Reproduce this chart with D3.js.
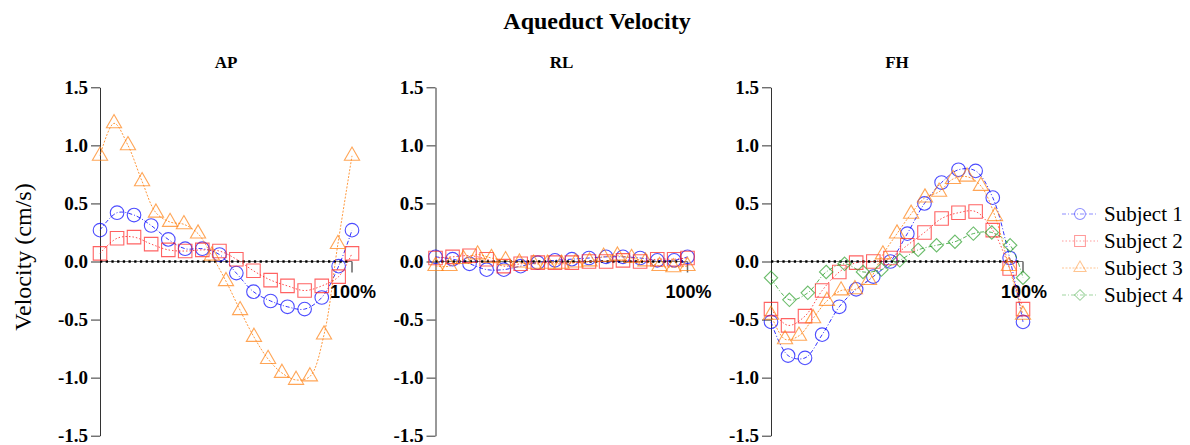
<!DOCTYPE html>
<html>
<head>
<meta charset="utf-8">
<script src="https://cdn.jsdelivr.net/npm/d3@7"></script>
<style>
  body { margin: 0; background: #fff; }
  svg { display: block; }
</style>
</head>
<body>
<div id="chart"></div>
<script>
// cycle position (% of cardiac cycle) for each subject's frames
const phase12 = [0, 6.77, 13.5, 20.3, 27.1, 33.8, 40.6, 47.4, 54.1, 60.9, 67.7, 74.4, 81.2, 88.0, 94.7, 100];
const phase3 = [0, 5.56, 11.1, 16.7, 22.2, 27.8, 33.3, 38.9, 44.4, 50, 55.6, 61.1, 66.7, 72.2, 77.8, 83.3, 88.9, 94.4, 100];
const phase4 = [0, 7.3, 14.6, 21.9, 29.2, 36.5, 43.8, 51.1, 58.4, 65.7, 73.0, 80.3, 87.6, 94.9, 100];

const panels = ["AP", "RL", "FH"];
const subjects = ["Subject 1", "Subject 2", "Subject 3", "Subject 4"];
const yTicks = [-1.5, -1.0, -0.5, 0.0, 0.5, 1.0, 1.5];

// velocities (cm/s)
const ap1 = [0.27, 0.42, 0.40, 0.31, 0.19, 0.11, 0.11, 0.06, -0.10, -0.26, -0.34, -0.39, -0.41, -0.31, -0.04, 0.27];
const ap2 = [0.07, 0.20, 0.21, 0.15, 0.10, 0.09, 0.10, 0.09, 0.02, -0.08, -0.16, -0.21, -0.25, -0.21, -0.13, 0.07];
const ap3 = [0.91, 1.19, 1.00, 0.69, 0.42, 0.34, 0.32, 0.24, 0.05, -0.17, -0.42, -0.65, -0.84, -0.96, -1.02, -0.99, -0.63, 0.15, 0.91];

const rl1 = [0.04, 0.02, -0.02, -0.07, -0.07, -0.04, -0.01, 0.01, 0.02, 0.03, 0.04, 0.04, 0.03, 0.01, 0.01, 0.04];
const rl2 = [0.03, 0.04, 0.05, 0.02, -0.04, -0.02, -0.01, -0.01, -0.01, 0.00, 0.00, 0.01, 0.00, 0.02, 0.02, 0.03];
const rl3 = [-0.04, -0.04, 0.02, 0.06, 0.03, 0.01, -0.01, -0.02, -0.02, -0.02, -0.01, 0.00, 0.04, 0.05, 0.03, 0.00, -0.04, -0.05, -0.04];

const fh1 = [-0.52, -0.81, -0.83, -0.63, -0.39, -0.24, -0.13, 0.00, 0.24, 0.50, 0.68, 0.79, 0.78, 0.55, 0.03, -0.52];
const fh2 = [-0.41, -0.55, -0.47, -0.25, -0.09, -0.01, 0.00, 0.03, 0.14, 0.25, 0.37, 0.42, 0.43, 0.27, -0.06, -0.41];
const fh3 = [-0.46, -0.67, -0.64, -0.49, -0.34, -0.25, -0.24, -0.16, 0.06, 0.24, 0.41, 0.55, 0.60, 0.71, 0.73, 0.65, 0.39, -0.04, -0.46];
const fh4 = [-0.14, -0.33, -0.27, -0.09, -0.02, -0.09, -0.07, 0.01, 0.10, 0.14, 0.17, 0.24, 0.25, 0.14, -0.14];

const panelData = {
    AP: [ap1, ap2, ap3, null],
    RL: [rl1, rl2, rl3, null],
    FH: [fh1, fh2, fh3, fh4]
};
const phases = [phase12, phase12, phase3, phase4];

const width = 1190, height = 445;
const colors = ["#0000ff", "#ff2020", "#ff7f0e", "#2ca02c"];
const dashes = ["4,2,1,2", "1.5,2", "2,1.5", "4,2,1,2"];
const serif = "'Liberation Serif', 'Times New Roman', serif";
const sans = "'Liberation Sans', Arial, sans-serif";

const svg = d3.select("#chart")
    .append("svg")
    .attr("width", width)
    .attr("height", height);

svg.append("text")
    .attr("x", 597)
    .attr("y", 29)
    .attr("text-anchor", "middle")
    .attr("font-family", serif)
    .attr("font-weight", "bold")
    .attr("font-size", 24)
    .text("Aqueduct Velocity");

svg.append("text")
    .attr("transform", "translate(31,257) rotate(-90)")
    .attr("text-anchor", "middle")
    .attr("font-family", serif)
    .attr("font-size", 24)
    .text("Velocity (cm/s)");

let y = d3.scaleLinear().domain([-1.5, 1.5]).range([435.7, 87.3]);

// square turned on its corner (d3's diamond is too tall)
const symbolRhomb = {
    draw: function (ctx, size) {
        let r = Math.sqrt(size / 2);
        ctx.moveTo(0, -r);
        ctx.lineTo(r, 0);
        ctx.lineTo(0, r);
        ctx.lineTo(-r, 0);
        ctx.closePath();
    }
};

// marker shapes
const symbols = [
    d3.symbol().type(d3.symbolCircle).size(Math.PI * 6.8 * 6.8),
    d3.symbol().type(d3.symbolSquare).size(13.5 * 13.5),
    d3.symbol().type(d3.symbolTriangle).size(100),
    d3.symbol().type(symbolRhomb).size(90)
];

let panelX = d3.scalePoint().domain(panels).range([100, 771]);

panels.forEach(function (p) {
    let x0 = panelX(p);
    let x = d3.scaleLinear().domain([0, 100]).range([x0, x0 + 252]);

    let g = svg.append("g").attr("class", "panel");

    g.append("text")
        .attr("x", x0 + 126)
        .attr("y", 68)
        .attr("text-anchor", "middle")
        .attr("font-family", serif)
        .attr("font-weight", "bold")
        .attr("font-size", 17)
        .text(p);

    let axis = g.append("g")
        .attr("transform", "translate(" + x0 + ",0)")
        .call(d3.axisLeft(y)
            .tickValues(yTicks)
            .tickSize(9)
            .tickSizeOuter(0)
            .tickPadding(3)
            .tickFormat(d => d.toFixed(1)));
    axis.selectAll("path, line").attr("stroke", "#333");
    axis.selectAll("text")
        .attr("font-family", serif)
        .attr("font-weight", "bold")
        .attr("font-size", 19)
        .attr("fill", "#000");

    // zero line with end tick
    g.append("line")
        .attr("x1", x(0)).attr("x2", x(100))
        .attr("y1", y(0)).attr("y2", y(0))
        .attr("stroke", "#777")
        .attr("stroke-width", 1);
    g.append("line")
        .attr("x1", x(100)).attr("x2", x(100))
        .attr("y1", y(0)).attr("y2", y(0) + 11)
        .attr("stroke", "#666")
        .attr("stroke-width", 1.5);
    g.append("line")
        .attr("x1", x(0)).attr("x2", x(100) - 3)
        .attr("y1", y(0)).attr("y2", y(0))
        .attr("stroke", "#000")
        .attr("stroke-width", 2.5)
        .attr("stroke-dasharray", "2.3,3.4");

    g.append("text")
        .attr("x", x(100) + 1)
        .attr("y", 298)
        .attr("text-anchor", "middle")
        .attr("font-family", sans)
        .attr("font-weight", "bold")
        .attr("font-size", 18)
        .text("100%");

    panelData[p].forEach(function (vals, s) {
        if (!vals) return;
        let pts = vals.map((v, i) => [phases[s][i], v]);

        let line = d3.line()
            .x(d => x(d[0]))
            .y(d => y(d[1]))
            .curve(d3.curveCatmullRom.alpha(0.5));

        g.append("path")
            .datum(pts)
            .attr("d", line)
            .attr("fill", "none")
            .attr("stroke", colors[s])
            .attr("stroke-opacity", 0.8)
            .attr("stroke-width", 1)
            .attr("stroke-dasharray", dashes[s]);

        g.selectAll(".m" + s)
            .data(pts)
            .enter()
            .append("path")
            .attr("class", "m" + s)
            .attr("transform", d => "translate(" + x(d[0]) + "," + y(d[1]) + ")")
            .attr("d", symbols[s])
            .attr("fill", "none")
            .attr("stroke", colors[s])
            .attr("stroke-opacity", 0.7)
            .attr("stroke-width", 1.1);
    });
});

// legend
let legendY = d3.scalePoint().domain(subjects).range([214, 295]);
let legend = svg.selectAll(".legend")
    .data(subjects)
    .enter()
    .append("g")
    .attr("class", "legend")
    .attr("transform", d => "translate(0," + legendY(d) + ")");

legend.append("line")
    .attr("x1", 1062).attr("x2", 1098)
    .attr("stroke", (d, i) => colors[i])
    .attr("stroke-opacity", 0.45)
    .attr("stroke-width", 1)
    .attr("stroke-dasharray", (d, i) => dashes[i]);

legend.append("path")
    .attr("transform", "translate(1080,0) scale(0.8)")
    .attr("d", (d, i) => symbols[i]())
    .attr("fill", "none")
    .attr("stroke", (d, i) => colors[i])
    .attr("stroke-opacity", 0.45)
    .attr("stroke-width", 1.3);

legend.append("text")
    .attr("x", 1104)
    .attr("y", 7)
    .attr("font-family", serif)
    .attr("font-size", 21)
    .text(d => d);
</script>
</body>
</html>
